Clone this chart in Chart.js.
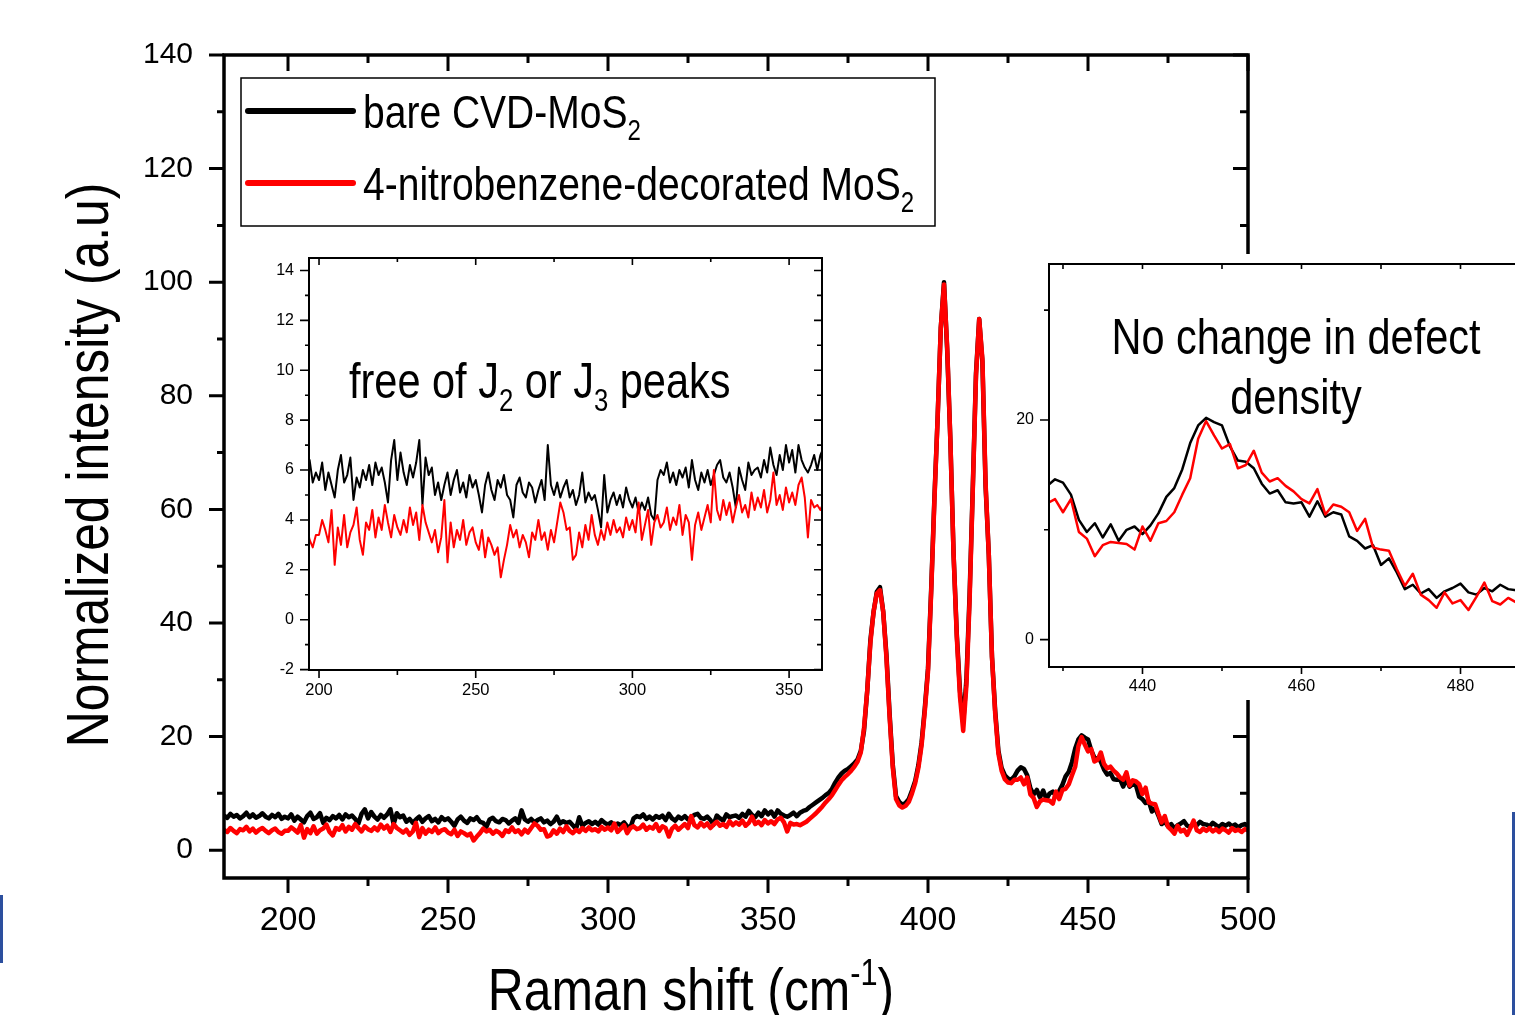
<!DOCTYPE html>
<html>
<head>
<meta charset="utf-8">
<title>Raman spectra of MoS2</title>
<script src="https://cdn.jsdelivr.net/npm/chart.js@4.4.1/dist/chart.umd.min.js"></script>
<style>
    html, body { margin: 0; padding: 0; background: #fff; overflow: hidden; }
    body { width: 1515px; height: 1015px; position: relative; }
    canvas { position: absolute; }
    #mainChart { left: 0; top: 0; }
    #lowInset { left: 262px; top: 248px; background: #fff; }
    #defectInset { left: 1005px; top: 254px; background: #fff; }
    .edge { position: absolute; width: 3px; background: #2c4f9e; }
</style>
</head>
<body>
<canvas id="mainChart" width="1515" height="1015"></canvas>
<canvas id="lowInset" width="575" height="460"></canvas>
<canvas id="defectInset" width="560" height="446"></canvas>
<div class="edge" style="left:0;top:895px;height:68px"></div>
<div class="edge" style="left:1512px;top:812px;height:203px"></div>
<script>
// Raman shift grid: one sample per cm-1, 180..500
const shiftStart = 180;
const shiftStep = 1;

const seriesLabels = ['bare CVD-MoS2', '4-nitrobenzene-decorated MoS2'];

const bareIntensity = [
    6.1, 5.7, 6.4, 5.9, 6.2, 5.6, 6.0, 6.6, 5.8, 6.3,
    5.7, 6.0, 6.5, 5.9, 5.6, 6.2, 5.8, 6.4, 5.5, 5.9,
    5.6, 6.3, 5.2, 5.9, 5.4, 4.9, 6.0, 6.6, 5.5, 5.8,
    6.5, 4.8, 5.7, 5.3, 6.0, 5.6, 6.2, 5.4, 6.3, 5.8,
    6.1, 5.5, 4.7, 6.4, 7.2, 5.6, 6.7, 5.9, 5.4, 6.2,
    5.7, 6.3, 7.2, 4.6, 6.5, 5.8, 6.1, 5.0, 5.5, 4.8,
    5.4, 5.9, 5.0, 5.6, 6.0, 5.1, 5.5, 4.9, 5.8, 5.3,
    5.6, 5.0, 4.3, 5.4, 5.9, 5.2, 4.8, 5.6, 5.3, 5.8,
    5.0, 4.8, 4.1, 5.4, 5.7, 5.1, 4.9, 5.5, 5.3, 4.7,
    5.2, 5.6, 4.8, 7.0, 5.4, 5.0, 5.5, 4.9, 5.3, 5.6,
    4.9, 5.2, 4.6, 5.0, 5.9, 4.7, 5.1, 4.8, 5.0, 4.4,
    3.7, 5.8, 4.3, 4.8, 5.1, 4.6, 5.0, 4.5, 5.3, 4.8,
    4.5, 4.9, 4.3, 4.7, 4.4, 4.9, 4.2, 4.0, 5.6, 6.0,
    5.8, 6.3, 5.5, 5.9, 5.4, 6.0, 5.7, 6.1, 5.3, 6.4,
    5.6, 5.2, 5.9, 5.5, 6.0, 5.4, 5.8, 6.2, 6.4, 5.7,
    5.5, 5.9, 5.3, 4.5, 6.1, 5.6, 5.2, 6.3, 5.8, 6.0,
    6.1, 5.7, 6.4, 5.9, 6.9, 6.2, 5.8, 6.6, 6.0, 7.0,
    6.3, 6.8, 5.9, 7.0, 6.4, 6.1, 5.9, 6.2, 6.6, 6.0,
    6.6, 6.9, 7.1, 7.6, 8.0, 8.4, 8.8, 9.2, 9.7, 10.1,
    10.8, 11.9, 12.8, 13.5, 14.0, 14.3, 14.8, 15.3, 16.0, 17.5,
    21.0, 28.0, 37.0, 42.0, 45.5, 46.3, 42.0, 34.5, 24.0, 15.0,
    9.5, 8.5, 8.0, 8.3, 9.0, 10.5, 12.2, 15.0, 19.0, 25.0,
    32.0, 46.0, 62.0, 76.0, 92.0, 100.0, 88.0, 72.0, 52.0, 38.0,
    28.0, 22.5, 30.0, 45.0, 64.0, 84.0, 93.5, 86.0, 64.0, 52.0,
    34.0, 24.5, 17.5, 14.5, 13.2, 12.6, 12.4, 13.0, 14.0, 14.6,
    14.3, 13.2, 10.9, 9.8, 10.6, 9.3, 10.5, 9.0, 10.0, 10.3,
    9.6, 10.4, 11.5, 13.0, 13.8, 15.5, 17.9, 19.5, 20.2, 19.8,
    19.5, 17.6, 16.3, 16.2, 15.6, 14.2, 13.3, 13.6, 12.5, 12.4,
    12.5, 11.2, 12.6, 11.2, 11.6, 11.4, 9.4, 9.0, 8.3, 8.6,
    6.8, 7.4, 6.1, 4.6, 5.0, 4.2, 4.6, 3.8, 4.4, 4.7,
    5.1, 4.3, 4.1, 4.7, 4.4, 5.0, 4.6, 4.5, 4.2, 4.8,
    4.4, 4.1, 4.6, 4.3, 4.7, 4.2, 4.5, 4.0, 4.4, 4.6,
    4.3
];

const decoratedIntensity = [
    3.6, 3.2, 3.9, 3.4, 3.0, 3.7, 3.5, 4.1, 3.3, 3.8,
    3.1, 3.6, 3.9, 3.4, 3.0, 3.5, 3.8, 3.2, 2.9, 3.4,
    3.4, 4.0, 3.6, 3.1, 4.4, 2.2, 3.7, 3.0, 4.2, 2.9,
    3.5, 3.8, 4.5, 3.2, 2.6, 3.9, 3.6, 4.4, 3.3, 4.1,
    3.6, 4.6, 3.9, 3.3, 4.2, 3.7, 3.4, 4.0, 3.5, 4.5,
    3.8, 4.3, 3.2, 4.6, 3.9, 3.5, 3.1, 3.6, 2.7, 3.3,
    4.8, 2.3, 3.9, 2.9, 3.6, 3.2, 4.0, 3.0, 3.5, 3.7,
    3.1, 2.8, 3.6, 2.5, 3.3, 3.0, 2.6, 2.9, 1.7, 2.4,
    3.0, 3.8, 3.3, 3.6, 2.9, 3.4, 3.1, 2.5, 3.5, 3.2,
    4.0, 3.2, 3.5, 2.8, 3.6, 3.1, 3.9, 4.7, 4.3, 3.6,
    3.7, 2.4, 2.6, 3.5, 2.9, 3.8, 3.2, 4.2, 3.4, 3.0,
    3.6, 3.2, 3.9, 3.4, 4.0, 3.5, 3.7, 3.3, 4.1, 3.6,
    4.0, 3.5, 4.7, 3.2, 3.8, 4.4, 3.0, 3.9, 4.2, 3.7,
    3.9, 4.5, 3.6, 4.1, 3.8, 4.6, 3.4, 4.2, 3.9, 2.4,
    3.8, 4.3, 3.6, 4.1, 4.6, 3.9, 6.0, 4.4, 4.0, 4.8,
    4.2, 4.7, 3.9, 4.5, 5.0, 4.3, 4.6, 4.1, 5.1, 4.4,
    4.9, 4.5, 5.2, 4.3, 4.8, 5.9, 4.6, 5.0, 4.4, 5.3,
    4.7, 5.1, 4.6, 5.4, 5.7, 4.9, 3.3, 4.8, 4.5, 4.6,
    4.4, 4.7, 5.0, 5.5, 6.0, 6.5, 7.1, 7.7, 8.4, 9.0,
    9.7, 10.6, 11.5, 12.3, 12.9, 13.4, 14.0, 14.7, 15.6, 17.2,
    21.5, 28.0, 36.5, 42.0, 45.2, 45.8, 42.0, 34.0, 23.5, 14.5,
    9.0, 7.9, 7.5, 7.8, 8.5, 10.0, 11.8, 14.5, 18.5, 24.5,
    31.5, 45.5, 61.5, 76.0, 92.0, 99.6, 88.5, 72.0, 52.0, 37.5,
    27.0, 21.0, 29.0, 44.0, 63.5, 83.5, 93.5, 86.5, 64.5, 52.0,
    34.0, 24.0, 17.0, 14.0, 12.5, 11.9, 11.8, 12.4, 12.4, 12.8,
    11.6, 12.8, 9.8, 9.2, 7.6, 8.6, 8.9, 8.8, 8.7, 8.2,
    10.3, 9.0, 10.6, 10.8, 11.6, 13.2, 14.7, 18.3, 19.9, 18.6,
    17.4, 17.8, 15.6, 15.9, 17.2, 15.2, 14.4, 14.7, 14.0, 13.5,
    12.8, 12.4, 13.7, 11.4, 12.3, 12.1, 11.6, 9.9, 11.0, 8.4,
    8.2, 8.1, 6.4, 4.9, 6.0, 4.1, 3.6, 2.9, 4.3, 3.3,
    3.6, 2.7, 3.9, 5.2, 3.5, 3.2, 3.8, 3.4, 3.9, 3.3,
    3.7, 3.2, 3.8, 3.5, 3.1, 3.9, 3.4, 3.6, 3.2, 3.7,
    3.5
];

// tick labels
const mainXTicks = [200, 250, 300, 350, 400, 450, 500];
const mainYTicks = [0, 20, 40, 60, 80, 100, 120, 140];
const lowXTicks = [200, 250, 300, 350];
const lowYTicks = [-2, 0, 2, 4, 6, 8, 10, 12, 14];
const defectXTicks = [440, 460, 480];
const defectYTicks = [0, 20];

const SANS = '"Liberation Sans", Arial, sans-serif';
const STRETCH = 0.83;   // squeeze Liberation Sans to look like Arial Narrow

const toPoints = arr => arr.map((v, i) => ({ x: shiftStart + i * shiftStep, y: v }));

function makeDatasets(width) {
    return [
        { label: seriesLabels[0], data: toPoints(bareIntensity), borderColor: '#000000', borderWidth: width, order: 2 },
        { label: seriesLabels[1], data: toPoints(decoratedIntensity), borderColor: '#ff0000', borderWidth: width, order: 1 },
    ].map(d => Object.assign(d, { pointRadius: 0, tension: 0, fill: false, borderJoinStyle: 'round' }));
}

// gap is the distance label <-> plot edge; given as tick length so it
// does not inflate the chart padding
function axis(min, max, ticks, size, gap, fit) {
    return {
        type: 'linear',
        min: min,
        max: max,
        grid: { display: false, drawTicks: true, tickLength: gap },
        border: { display: false },
        afterBuildTicks: s => { s.ticks = ticks.map(v => ({ value: v })); },
        afterFit: fit,
        ticks: {
            color: '#000',
            font: { family: SANS, size: size },
            padding: 0,
            maxRotation: 0,
            autoSkip: false,
            callback: v => String(v),
        },
    };
}

// text with sub/superscripts, parts = [{t, sub?, sup?}]
function drawParts(ctx, parts, x, y, size, align) {
    const small = Math.round(size * 0.62);
    const fontOf = p => (p.sub || p.sup ? small : size) + 'px ' + SANS;
    let w = 0;
    parts.forEach(p => { ctx.font = fontOf(p); p.w = ctx.measureText(p.t).width * STRETCH; w += p.w; });
    let cx = align === 'center' ? x - w / 2 : x;
    ctx.textAlign = 'left';
    ctx.textBaseline = 'alphabetic';
    ctx.fillStyle = '#000';
    parts.forEach(p => {
        ctx.font = fontOf(p);
        const dy = p.sub ? size * 0.25 : p.sup ? -size * 0.42 : 0;
        ctx.save();
        ctx.translate(cx, y + dy);
        ctx.scale(STRETCH, 1);
        ctx.fillText(p.t, 0, 0);
        ctx.restore();
        cx += p.w;
    });
}

function subscriptTail(s) {
    const m = s.match(/^(.*?)(\d)$/);
    return m ? [{ t: m[1] }, { t: m[2], sub: true }] : [{ t: s }];
}

// box around the plot plus major/minor tick marks
const frameTicks = {
    id: 'frameTicks',
    afterDatasetsDraw(chart, args, o) {
        const { ctx, chartArea: a, scales: { x, y } } = chart;
        ctx.save();
        ctx.strokeStyle = '#000';
        ctx.lineWidth = o.tickWidth;
        ctx.beginPath();
        o.x.forEach(t => {
            for (let v = t.from; v <= t.to + 1e-6; v += t.step) {
                if (v < x.min || v > x.max) continue;
                const px = x.getPixelForValue(v);
                if (t.bottom) { ctx.moveTo(px, a.bottom); ctx.lineTo(px, a.bottom + t.bottom); }
                if (t.top) { ctx.moveTo(px, a.top); ctx.lineTo(px, a.top + t.top); }
            }
        });
        o.y.forEach(t => {
            for (let v = t.from; v <= t.to + 1e-6; v += t.step) {
                if (v < y.min || v > y.max) continue;
                const py = y.getPixelForValue(v);
                if (t.left) { ctx.moveTo(a.left, py); ctx.lineTo(a.left - t.left, py); }
                if (t.right) { ctx.moveTo(a.right, py); ctx.lineTo(a.right - t.right, py); }
            }
        });
        ctx.stroke();
        ctx.lineWidth = o.frameWidth;
        ctx.strokeRect(a.left, a.top, a.width, a.height);
        ctx.restore();
    }
};

// free text placed relative to the chart area
const notes = {
    id: 'notes',
    afterDraw(chart, args, o) {
        const { ctx, chartArea: a } = chart;
        ctx.save();
        o.items.forEach(n => drawParts(ctx, n.parts, a.left + n.dx, a.top + n.dy, n.size, n.align));
        ctx.restore();
    }
};

// axis titles and legend of the big plot
const mainDecor = {
    id: 'mainDecor',
    afterDraw(chart) {
        const { ctx, chartArea: a } = chart;
        ctx.save();
        drawParts(ctx, [{ t: 'Raman shift (cm' }, { t: '-1', sup: true }, { t: ')' }], 691, 1010, 60, 'center');
        ctx.translate(108, 465);
        ctx.rotate(-Math.PI / 2);
        drawParts(ctx, [{ t: 'Normalized intensity (a.u)' }], 0, 0, 60, 'center');
        ctx.restore();

        const bx = a.left + 17, by = a.top + 23;
        ctx.save();
        ctx.fillStyle = '#fff';
        ctx.fillRect(bx, by, 694, 148);
        ctx.strokeStyle = '#000';
        ctx.lineWidth = 1.5;
        ctx.strokeRect(bx, by, 694, 148);
        chart.data.datasets.forEach((d, i) => {
            const ly = by + 33 + i * 72;
            ctx.strokeStyle = d.borderColor;
            ctx.lineWidth = 6;
            ctx.lineCap = 'round';
            ctx.beginPath();
            ctx.moveTo(bx + 7, ly);
            ctx.lineTo(bx + 112, ly);
            ctx.stroke();
            drawParts(ctx, subscriptTail(d.label), bx + 122, ly + 17, 47, 'left');
        });
        ctx.restore();
    }
};

new Chart(document.getElementById('mainChart'), {
    type: 'line',
    data: { datasets: makeDatasets(4.5) },
    plugins: [frameTicks, mainDecor],
    options: {
        responsive: false,
        animation: false,
        layout: { padding: { top: 55, right: 267, left: 0, bottom: 0 } },
        scales: {
            x: axis(180, 500, mainXTicks, 34, 22, s => { s.height = 137; }),
            y: axis(-4.9, 140, mainYTicks, 30, 31, s => { s.width = 224; }),
        },
        plugins: {
            legend: { display: false },
            tooltip: { enabled: false },
            frameTicks: {
                frameWidth: 3.5, tickWidth: 3,
                x: [{ from: 200, to: 500, step: 50, bottom: 15, top: 16 }, { from: 225, to: 475, step: 50, bottom: 8, top: 8 }],
                y: [{ from: 0, to: 140, step: 20, left: 15, right: 15 }, { from: 10, to: 130, step: 20, left: 7, right: 8 }],
            },
        },
    },
});

new Chart(document.getElementById('lowInset'), {
    type: 'line',
    data: { datasets: makeDatasets(2) },
    plugins: [frameTicks, notes],
    options: {
        responsive: false,
        animation: false,
        layout: { padding: { top: 10, right: 15, left: 0, bottom: 0 } },
        scales: {
            x: axis(196.8, 360.5, lowXTicks, 16.5, 11, s => { s.height = 38; }),
            y: axis(-2.016, 14.5, lowYTicks, 16, 15, s => { s.width = 47; }),
        },
        plugins: {
            legend: { display: false },
            tooltip: { enabled: false },
            frameTicks: {
                frameWidth: 2, tickWidth: 1.6,
                x: [{ from: 200, to: 350, step: 50, bottom: 8, top: 7 }, { from: 225, to: 350, step: 50, bottom: 5, top: 4 }],
                y: [{ from: -2, to: 14, step: 2, left: 9, right: 8 }, { from: -1, to: 13, step: 2, left: 4, right: 5 }],
            },
            notes: {
                items: [{ parts: [{ t: 'free of J' }, { t: '2', sub: true }, { t: ' or J' }, { t: '3', sub: true }, { t: ' peaks' }], dx: 40, dy: 140, size: 50, align: 'left' }],
            },
        },
    },
});

new Chart(document.getElementById('defectInset'), {
    type: 'line',
    data: { datasets: makeDatasets(2.5) },
    plugins: [frameTicks, notes],
    options: {
        responsive: false,
        animation: false,
        layout: { padding: { top: 10, right: 25, left: 0, bottom: 0 } },
        scales: {
            x: axis(428.24, 490, defectXTicks, 16.5, 10, s => { s.height = 33; }),
            y: axis(-2.49, 34.2, defectYTicks, 16, 15, s => { s.width = 44; }),
        },
        plugins: {
            legend: { display: false },
            tooltip: { enabled: false },
            frameTicks: {
                frameWidth: 2, tickWidth: 1.6,
                x: [{ from: 440, to: 480, step: 20, bottom: 7, top: 5 }, { from: 430, to: 490, step: 20, bottom: 4, top: 5 }],
                y: [{ from: 0, to: 20, step: 20, left: 9 }, { from: 10, to: 30, step: 20, left: 5 }],
            },
            notes: {
                items: [
                    { parts: [{ t: 'No change in defect' }], dx: 247, dy: 90, size: 50, align: 'center' },
                    { parts: [{ t: 'density' }], dx: 247, dy: 150, size: 50, align: 'center' },
                ],
            },
        },
    },
});
</script>
</body>
</html>
